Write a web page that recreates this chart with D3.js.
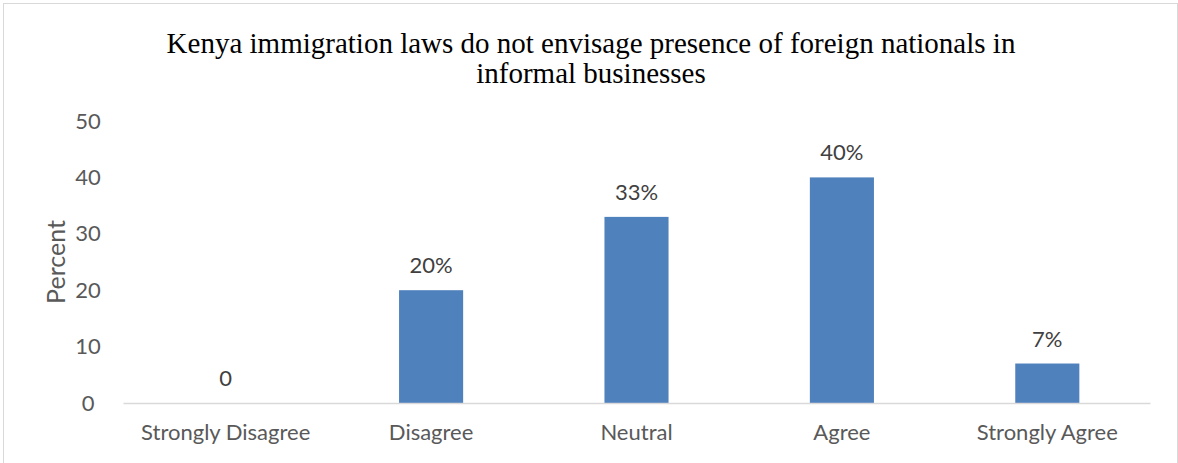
<!DOCTYPE html>
<html>
<head>
<meta charset="utf-8">
<script src="https://cdn.jsdelivr.net/npm/d3@7"></script>
<style>
  body { margin: 0; background: #fff; }
  .tick text { fill: #595959; font-family: Lato, "Open Sans", sans-serif; font-size: 22px; }
</style>
</head>
<body>
<div class="app"></div>
<script>
'use strict'

var categories = ["Strongly Disagree", "Disagree", "Neutral", "Agree", "Strongly Agree"];
var values = [0, 20, 33, 40, 7];
var valueLabels = ["0", "20%", "33%", "40%", "7%"];
var yTicks = [0, 10, 20, 30, 40, 50];
var titleLines = ["Kenya immigration laws do not envisage presence of foreign nationals in", "informal businesses"];

var W = 1178, H = 463;
var margin = {top: 121, right: 28, bottom: 60, left: 123};
var width = W - margin.left - margin.right;
var height = H - margin.top - margin.bottom;

var svg = d3.select(".app").append("svg")
  .attr("width", W)
  .attr("height", H);

// рамка
svg.append("rect")
  .attr("x", 3.5).attr("y", 3.5)
  .attr("width", W - 4).attr("height", H)
  .attr("fill", "none")
  .attr("stroke", "#d9d9d9");

// заголовок
svg.append("g").selectAll("text")
  .data(titleLines)
  .enter().append("text")
  .attr("x", 591)
  .attr("y", function(d, i) { return 53 + i * 30; })
  .attr("text-anchor", "middle")
  .style("font-family", "'Liberation Serif', 'Times New Roman', serif")
  .style("font-size", "29px")
  .attr("fill", "#000")
  .text(function(d) { return d; });

var x = d3.scaleBand().domain(categories).range([0, width]).paddingInner(0.688).paddingOuter(0.344);
var y = d3.scaleLinear().domain([0, 50]).range([height, 0]);

var g = svg.append("g").attr("transform", "translate(" + margin.left + "," + margin.top + ")");

// ось Y
var yAxis = g.append("g")
  .call(d3.axisLeft(y).tickValues(yTicks).tickSize(0).tickPadding(14));
yAxis.select(".domain").remove();
yAxis.selectAll("text").attr("x", -35).attr("text-anchor", "middle");

// бары
g.selectAll(".bar")
  .data(values)
  .enter().append("rect")
  .attr("class", "bar")
  .attr("x", function(d, i) { return x(categories[i]); })
  .attr("y", function(d) { return y(d); })
  .attr("width", x.bandwidth())
  .attr("height", function(d) { return height - y(d); })
  .attr("fill", "#4f81bd");

// ось X
var xAxis = g.append("g")
  .attr("transform", "translate(0," + height + ")")
  .call(d3.axisBottom(x).tickSize(0).tickPadding(21));
xAxis.select(".domain").attr("stroke", "#d9d9d9").attr("stroke-width", 1.5);

// подписи значений
g.selectAll(".val")
  .data(values)
  .enter().append("text")
  .attr("class", "val")
  .attr("x", function(d, i) { return x(categories[i]) + x.bandwidth() / 2; })
  .attr("y", function(d) { return y(d) - 17; })
  .attr("text-anchor", "middle")
  .style("font-family", "Lato, 'Open Sans', sans-serif")
  .style("font-size", "22px")
  .attr("fill", "#404040")
  .text(function(d, i) { return valueLabels[i]; });

// подпись оси Y
svg.append("text")
  .attr("transform", "translate(65," + (margin.top + height / 2) + ") rotate(-90)")
  .attr("text-anchor", "middle")
  .style("font-family", "Lato, 'Open Sans', sans-serif")
  .style("font-size", "25px")
  .attr("fill", "#595959")
  .text("Percent");
</script>
</body>
</html>
